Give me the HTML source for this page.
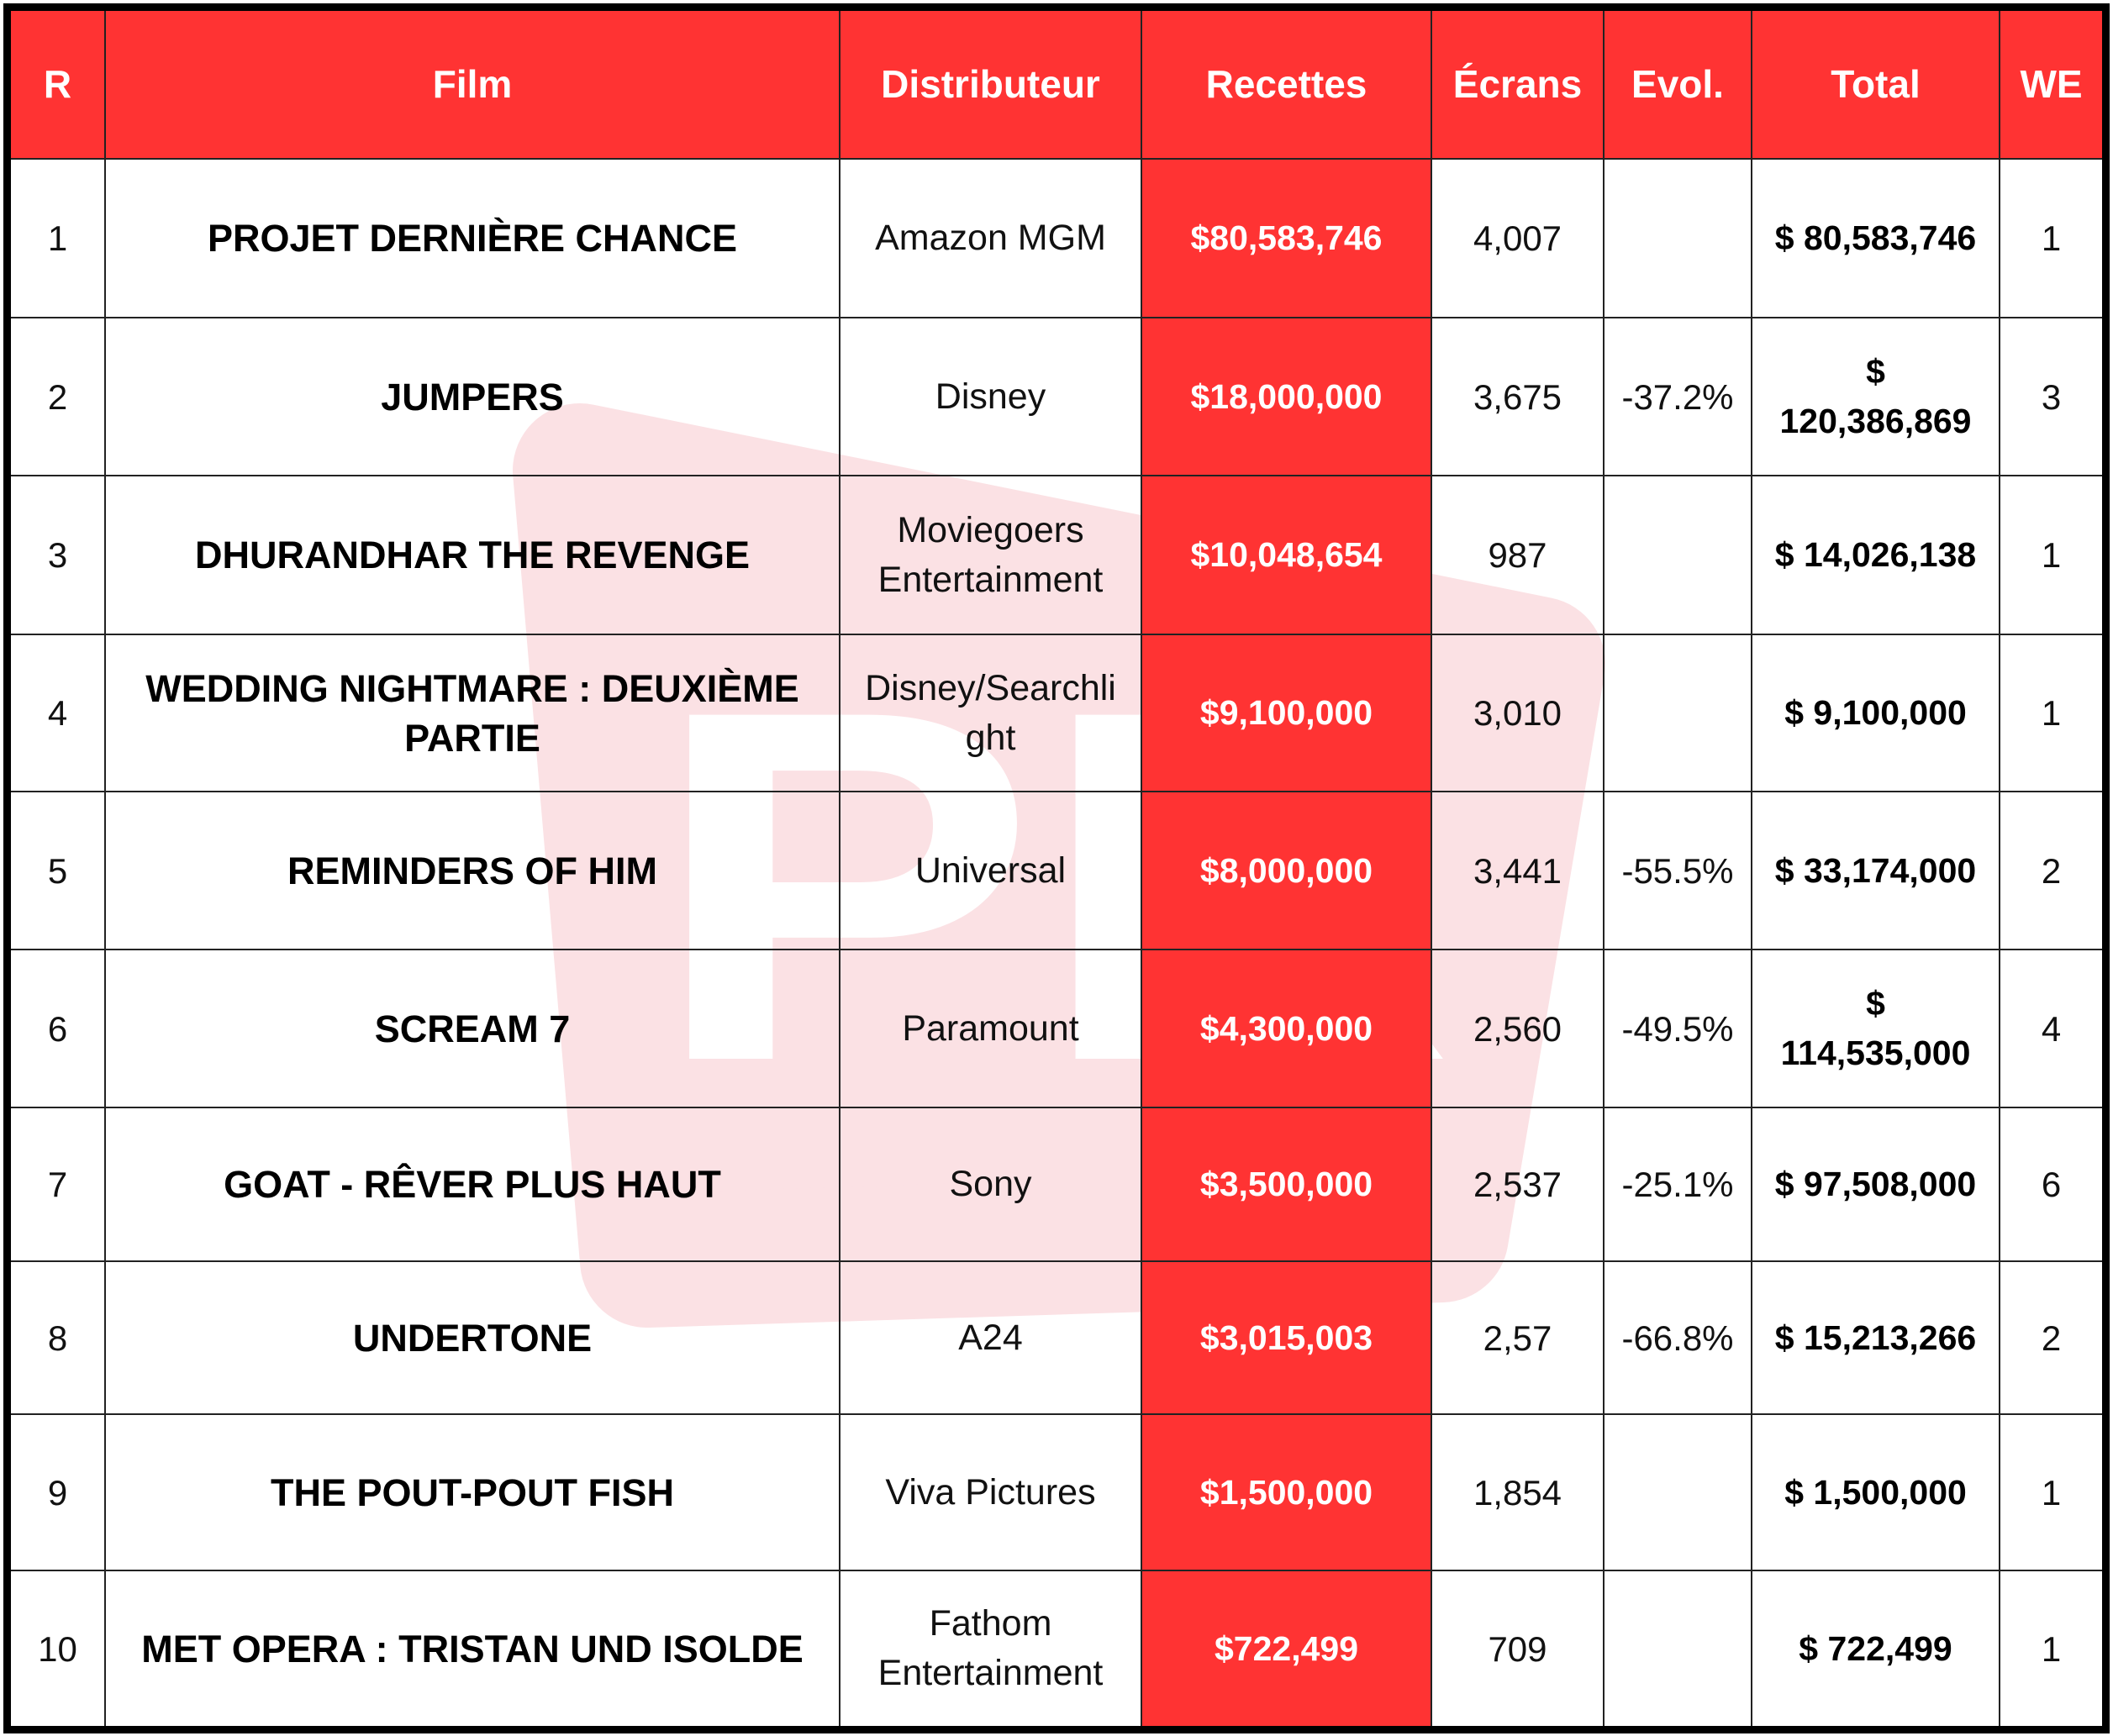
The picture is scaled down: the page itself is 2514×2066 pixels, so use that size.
<!DOCTYPE html>
<html><head><meta charset="utf-8"><style>
html,body{margin:0;padding:0;background:#fff;width:2514px;height:2066px;overflow:hidden}
#wm{position:absolute;left:0;top:0;z-index:0}
#frame{position:absolute;left:4px;top:4px;width:2488px;height:2041px;border:9px solid #000;z-index:1}
table{border-collapse:collapse;table-layout:fixed;width:2488px;height:2041px;font-family:"Liberation Sans",sans-serif}
td,th{border:2px solid #222;text-align:center;vertical-align:middle;padding:0;background:transparent;font-size:42px;color:#111;font-weight:normal;line-height:59px;white-space:nowrap}
tr:first-child th{border-top:none}
tr td:first-child,tr th:first-child{border-left:none}
tr td:last-child,tr th:last-child{border-right:none}
tr:last-child td{border-bottom:none}
th{background:#ff3333;color:#fff;font-weight:bold;font-size:46px}
td.f{font-weight:bold;font-size:45px;color:#000}
td.d{font-size:43px}
td.r{background:#ff3333;color:#fff;font-weight:bold;font-size:41px}
td.t{font-weight:bold;font-size:41px;color:#000}
</style></head><body>
<svg id="wm" width="2514" height="2066">
<path d="M690 560 L1830 790 L1715 1470 L770 1500 Z" fill="#fbe1e4" stroke="#fbe1e4" stroke-width="160" stroke-linejoin="round"/>
<text x="774" y="1260" font-family="Liberation Sans,sans-serif" font-weight="bold" font-size="595" fill="#fff" textLength="957" lengthAdjust="spacingAndGlyphs">PR</text>
</svg>
<div id="frame"><table>
<colgroup><col style="width:112px"><col style="width:874px"><col style="width:359px"><col style="width:345px"><col style="width:205px"><col style="width:176px"><col style="width:295px"><col style="width:122px"></colgroup>
<tr style="height:176px"><th>R</th><th>Film</th><th>Distributeur</th><th>Recettes</th><th>Écrans</th><th>Evol.</th><th>Total</th><th>WE</th></tr>
<tr style="height:189px"><td>1</td><td class="f">PROJET DERNIÈRE CHANCE</td><td class="d">Amazon MGM</td><td class="r">$80,583,746</td><td>4,007</td><td></td><td class="t">$ 80,583,746</td><td>1</td></tr>
<tr style="height:188px"><td>2</td><td class="f">JUMPERS</td><td class="d">Disney</td><td class="r">$18,000,000</td><td>3,675</td><td>-37.2%</td><td class="t">$<br>120,386,869</td><td>3</td></tr>
<tr style="height:189px"><td>3</td><td class="f">DHURANDHAR THE REVENGE</td><td class="d">Moviegoers<br>Entertainment</td><td class="r">$10,048,654</td><td>987</td><td></td><td class="t">$ 14,026,138</td><td>1</td></tr>
<tr style="height:187px"><td>4</td><td class="f">WEDDING NIGHTMARE : DEUXIÈME<br>PARTIE</td><td class="d">Disney/Searchli<br>ght</td><td class="r">$9,100,000</td><td>3,010</td><td></td><td class="t">$ 9,100,000</td><td>1</td></tr>
<tr style="height:188px"><td>5</td><td class="f">REMINDERS OF HIM</td><td class="d">Universal</td><td class="r">$8,000,000</td><td>3,441</td><td>-55.5%</td><td class="t">$ 33,174,000</td><td>2</td></tr>
<tr style="height:188px"><td>6</td><td class="f">SCREAM 7</td><td class="d">Paramount</td><td class="r">$4,300,000</td><td>2,560</td><td>-49.5%</td><td class="t">$<br>114,535,000</td><td>4</td></tr>
<tr style="height:183px"><td>7</td><td class="f">GOAT - RÊVER PLUS HAUT</td><td class="d">Sony</td><td class="r">$3,500,000</td><td>2,537</td><td>-25.1%</td><td class="t">$ 97,508,000</td><td>6</td></tr>
<tr style="height:182px"><td>8</td><td class="f">UNDERTONE</td><td class="d">A24</td><td class="r">$3,015,003</td><td>2,57</td><td>-66.8%</td><td class="t">$ 15,213,266</td><td>2</td></tr>
<tr style="height:186px"><td>9</td><td class="f">THE POUT-POUT FISH</td><td class="d">Viva Pictures</td><td class="r">$1,500,000</td><td>1,854</td><td></td><td class="t">$ 1,500,000</td><td>1</td></tr>
<tr style="height:185px"><td>10</td><td class="f">MET OPERA : TRISTAN UND ISOLDE</td><td class="d">Fathom<br>Entertainment</td><td class="r">$722,499</td><td>709</td><td></td><td class="t">$ 722,499</td><td>1</td></tr>
</table></div>
</body></html>
